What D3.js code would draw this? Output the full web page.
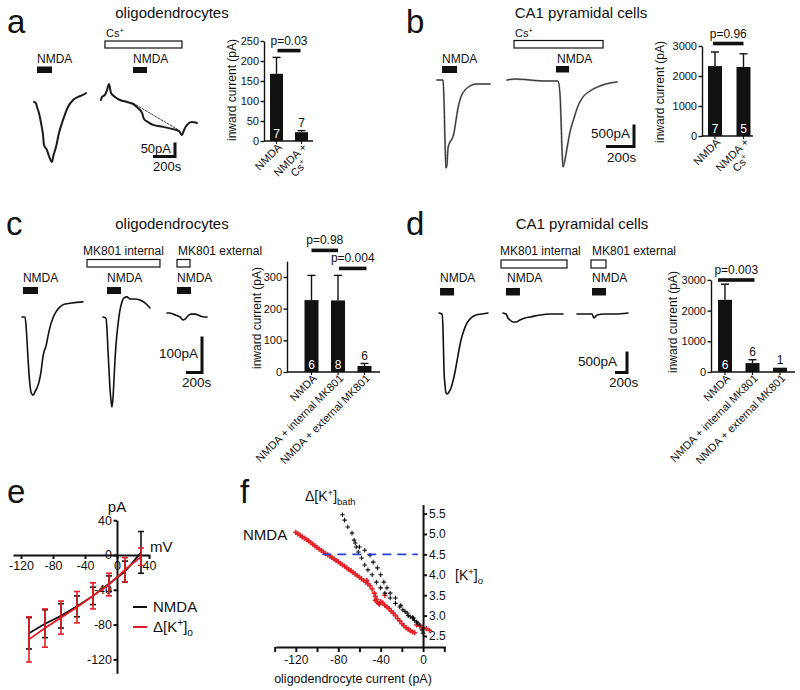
<!DOCTYPE html>
<html>
<head>
<meta charset="utf-8">
<script src="https://cdn.jsdelivr.net/npm/d3@7/dist/d3.min.js"></script>
<style>
html,body{margin:0;padding:0;background:#fff;}
svg{display:block;}
text{font-family:"Liberation Sans",Arial,Helvetica,sans-serif;}
</style>
</head>
<body>
<svg id="fig" width="800" height="690" xmlns="http://www.w3.org/2000/svg"></svg>
<script>
// ================= DATA =================
// Panel a : oligodendrocytes, NMDA without / with Cs+  (time s, current pA)
const aTraceControl = [[0,-7],[18,-11],[27,-25],[45,-46],[64,-82],[82,-125],[91,-161],[118,-179],[136,-200],[164,-221],[173,-204],[200,-168],[227,-118],[264,-71],[309,-25],[355,0],[400,11],[445,18],[473,25]];
const aTraceCs = [[0,0],[9,11],[36,18],[55,36],[73,57],[91,25],[127,11],[173,0],[236,-7],[291,-14],[336,-29],[373,-46],[391,-68],[427,-79],[473,-89],[564,-96],[655,-104],[709,-111],[736,-125],[755,-107],[782,-89],[827,-79],[873,-82]];
const aCsBaseline = [[291,-11],[691,-104]];
const aNmdaApp1 = [27,164];
const aCsApp = [36,736];
const aNmdaApp2 = [291,418];
const aBarCats = ["NMDA", "NMDA +|Cs^{+}"];
const aBarMeans = [168, 22];
const aBarSem = [41, 4];
const aBarN = [7, 7];
const aBarTicks = [0, 50, 100, 150, 200, 250];

// Panel b : CA1 pyramidal cells
const bTraceControl = [[0,0],[43,0],[50,-455],[57,-1364],[64,-2000],[71,-1932],[79,-1545],[93,-1409],[107,-1341],[121,-1205],[136,-909],[150,-636],[171,-386],[200,-227],[236,-136],[279,-91],[321,-91],[379,-91]];
const bTraceCs = [[0,0],[57,23],[164,0],[271,-23],[364,-23],[379,-341],[386,-909],[393,-1591],[400,-1977],[414,-1818],[429,-1545],[450,-1182],[479,-864],[507,-591],[543,-386],[593,-250],[664,-136],[736,-68],[786,-45]];
const bNmdaApp1 = [36,143];
const bCsApp = [50,686];
const bNmdaApp2 = [350,443];
const bBarCats = ["NMDA", "NMDA +|Cs^{+}"];
const bBarMeans = [2330, 2300];
const bBarSem = [470, 440];
const bBarN = [7, 5];
const bBarTicks = [0, 1000, 2000, 3000];

// Panel c : oligodendrocytes, MK801
const cTraceControl = [[0,0],[37,0],[50,-22],[62,-64],[75,-114],[87,-156],[100,-189],[112,-208],[137,-217],[162,-208],[187,-197],[212,-181],[237,-153],[262,-111],[275,-97],[300,-81],[325,-53],[350,-28],[387,-3],[425,14],[475,28],[537,36],[625,39],[762,42]];
const cTraceInternal = [[0,0],[37,-3],[50,-36],[62,-92],[75,-147],[87,-197],[100,-231],[112,-250],[125,-225],[137,-175],[150,-119],[162,-78],[187,-22],[212,19],[237,42],[262,53],[300,56],[337,50],[400,50],[462,47],[525,39],[587,25]];
const cTraceExternal = [[0,0],[37,0],[75,-3],[112,-6],[162,-11],[200,-19],[225,-17],[262,-8],[300,-3],[350,-3],[412,-8],[462,-11],[500,-11]];
const cNmdaApp1 = [12,200];
const cInternalApp = [-200,712];
const cNmdaApp2 = [50,225];
const cExternalApp = [125,287];
const cNmdaApp3 = [125,300];
const cBarCats = ["NMDA", "NMDA + internal MK801", "NMDA + external MK801"];
const cBarMeans = [227, 226, 19];
const cBarSem = [78, 79, 8];
const cBarN = [6, 8, 6];
const cBarTicks = [0, 100, 200, 300];

// Panel d : CA1 pyramidal cells, MK801
const dTraceControl = [[0,0],[50,-24],[67,-405],[75,-881],[83,-1357],[100,-1714],[117,-1905],[133,-1929],[167,-1881],[200,-1786],[233,-1619],[267,-1405],[300,-1143],[333,-881],[367,-643],[417,-405],[467,-238],[533,-119],[617,-48],[717,-24],[817,0]];
const dTraceInternal = [[0,0],[50,-24],[83,-119],[117,-167],[167,-214],[217,-214],[283,-167],[367,-119],[450,-95],[617,-48],[783,-24],[1000,-24]];
const dTraceExternal = [[0,0],[133,0],[250,0],[267,-48],[283,-95],[300,-71],[333,-24],[467,0],[633,0],[850,24]];
const dNmdaApp1 = [17,250];
const dInternalApp = [-33,1067];
const dNmdaApp2 = [50,283];
const dExternalApp = [233,483];
const dNmdaApp3 = [250,483];
const dBarCats = ["NMDA", "NMDA + internal MK801", "NMDA + external MK801"];
const dBarMeans = [2350, 290, 140];
const dBarSem = [510, 110, 0];
const dBarN = [6, 6, 1];
const dBarTicks = [0, 1000, 2000, 3000];

// Panel e : I-V relation
const eVm = [-110, -90, -70, -50, -30, -10, 10, 30];
const eNmdaMean = [-90, -79, -70, -59, -47, -33, -19, 3];
const eNmdaSem = [18, 16, 14, 12, 10, 9, 12, 24];
const eKMean = [-97, -84, -72, -60, -47, -34, -17, -2];
const eKSem = [26, 22, 19, 18, 15, 13, 14, 10];
const eXTicks = [-120, -80, -40, 0, 40];
const eYTicks = [40, 0, -40, -80, -120];

// Panel f : [K+]o vs oligodendrocyte current
const fNmdaPoints = [[-120,5.04],[-118,5.0],[-116,4.97],[-114,4.93],[-112,4.9],[-110,4.87],[-108,4.83],[-106,4.79],[-104,4.75],[-102,4.71],[-100,4.67],[-98,4.63],[-96,4.6],[-94,4.56],[-92,4.52],[-90,4.49],[-88,4.46],[-86,4.42],[-84,4.39],[-82,4.35],[-80,4.32],[-78,4.28],[-76,4.24],[-74,4.21],[-72,4.17],[-70,4.13],[-68,4.1],[-66,4.06],[-64,4.02],[-62,3.98],[-60,3.94],[-58,3.9],[-56,3.86],[-54,3.82],[-52,3.78],[-50,3.73],[-48,3.65],[-46,3.55],[-45,3.47],[-44,3.4],[-43,3.33],[-42,3.3],[-40,3.34],[-38,3.31],[-36,3.25],[-34,3.21],[-32,3.17],[-30,3.11],[-28,3.06],[-26,3.0],[-24,2.93],[-22,2.87],[-20,2.8],[-18,2.75],[-16,2.7],[-14,2.67],[-12,2.63],[-10,2.6],[-8,2.58],[-6,2.77],[-3,2.74],[0,2.7],[3,2.68],[6,2.64],[-53,3.86],[-36,3.5],[-45,3.37],[-41,3.28]];
const fBathPoints = [[-76,5.47],[-74,5.34],[-71,5.17],[-67,5.02],[-65,4.85],[-63,4.68],[-61,4.56],[-58,4.41],[-55,4.24],[-52,4.12],[-48,4.0],[-44,3.82],[-40,3.68],[-36,3.55],[-31,3.43],[-26,3.3],[-64,4.78],[-60,4.68],[-55,4.6],[-50,4.48],[-47,4.31],[-43,4.17],[-40,4.0],[-37,3.82],[-34,3.68],[-31,3.55],[-26,3.43],[-22,3.21],[-19,3.14],[-15,3.06],[-12,2.97],[-9,2.94],[-6,2.84],[-3,2.77],[-1,2.65],[0,2.57],[-21,3.25],[-17,3.1],[-14,3.0],[-10,2.95],[-8,2.88],[-5,2.82]];
const fThresholdK = 4.5;
const fThresholdSpan = [-95, -5];
const fXTicks = [-140, -120, -100, -80, -60, -40, -20, 0, 20];
const fXLabelled = [-120, -80, -40, 0];
const fYTicks = [2.5, 3.0, 3.5, 4.0, 4.5, 5.0, 5.5];

// ================= DRAWING =================
const svg = d3.select("#fig");
const INK = "#111";
const RED = "#e41e26";
svg.append("rect").attr("width", 800).attr("height", 690).attr("fill", "#fff");

function rich(t, s, fs) {
  const parts = String(s).split(/(\^\{[^}]*\}|_\{[^}]*\})/).filter(p => p !== "");
  let cur = 0;
  parts.forEach(p => {
    let off = 0, size = fs, content = p;
    if (p.startsWith("^{")) { off = -fs * 0.38; size = fs * 0.68; content = p.slice(2, -1); }
    else if (p.startsWith("_{")) { off = fs * 0.25; size = fs * 0.68; content = p.slice(2, -1); }
    t.append("tspan").attr("font-size", size).attr("dy", off - cur).text(content);
    cur = off;
  });
  return t;
}
function text(x, y, s, fs, anchor, color, parent) {
  const t = (parent || svg).append("text").attr("x", x).attr("y", y).attr("font-size", fs)
    .attr("text-anchor", anchor || "start").attr("fill", color || INK);
  return rich(t, s, fs);
}
function mkScales(x0, y0, kx, ky) {
  return {
    x: d3.scaleLinear().domain([0, 100]).range([x0, x0 + 100 * kx]),
    y: d3.scaleLinear().domain([0, -100]).range([y0, y0 + 100 * ky])
  };
}
function drawTrace(s, data, color, w, dash) {
  svg.append("path").datum(data)
    .attr("d", d3.line().x(d => s.x(d[0])).y(d => s.y(d[1])).curve(dash ? d3.curveLinear : d3.curveMonotoneX))
    .attr("fill", "none").attr("stroke", color).attr("stroke-width", w)
    .attr("stroke-linejoin", "round").attr("stroke-linecap", "round")
    .attr("stroke-dasharray", dash || null);
}
function appBar(s, range, y, h, filled) {
  svg.append("rect").attr("x", s.x(range[0])).attr("y", y)
    .attr("width", s.x(range[1]) - s.x(range[0])).attr("height", h)
    .attr("fill", filled ? INK : "#fff").attr("stroke", INK).attr("stroke-width", filled ? 0 : 1.2);
}
function scaleBar(s, cx, cy, tLen, iLen, iText, iPos, tText, tPos, fs) {
  const w = s.x(tLen) - s.x(0), h = s.y(-iLen) - s.y(0);
  svg.append("path").attr("d", `M${cx - w},${cy}H${cx}V${cy - h}`)
    .attr("fill", "none").attr("stroke", INK).attr("stroke-width", 3);
  text(iPos[0], iPos[1], iText, fs, "end");
  text(tPos[0], tPos[1], tText, fs, "start");
}
function styleAxis(g, fs, lw) {
  g.attr("font-family", null).attr("font-size", null);
  g.selectAll("text").attr("font-size", fs).attr("fill", INK)
    .style("font-family", '"Liberation Sans", Arial, sans-serif');
  g.selectAll("line").attr("stroke", INK).attr("stroke-width", lw);
  g.select(".domain").attr("stroke", INK).attr("stroke-width", lw);
}

function barChart(c) {
  const g = svg.append("g");
  const y = d3.scaleLinear().domain([0, c.top]).range([c.y0, c.y0 - c.top * c.ppu]);
  const x = d3.scalePoint().domain(c.cats).range(c.centers);
  c.cats.forEach((cat, i) => {
    const cx = x(cat), m = c.means[i], e = c.sem[i];
    if (e > 0) {
      g.append("line").attr("x1", cx).attr("x2", cx).attr("y1", y(m)).attr("y2", y(m + e)).attr("stroke", INK).attr("stroke-width", 1.4);
      g.append("line").attr("x1", cx - 4).attr("x2", cx + 4).attr("y1", y(m + e)).attr("y2", y(m + e)).attr("stroke", INK).attr("stroke-width", 1.4);
    }
    g.append("rect").attr("x", cx - c.bw / 2).attr("y", y(m)).attr("width", c.bw).attr("height", y(0) - y(m)).attr("fill", INK);
    const inside = (y(0) - y(m)) > 16;
    g.append("text").attr("x", cx).attr("y", inside ? y(0) - 3.5 : y(m + e) - 3.5)
      .attr("text-anchor", "middle").attr("font-size", 12).attr("fill", inside ? "#fff" : INK).text(c.n[i]);
    const lines = cat.split("|");
    const lg = g.append("g").attr("transform", `translate(${cx + 6},${c.y0 + 7}) rotate(-45)`);
    const t1 = rich(lg.append("text").attr("text-anchor", "end").attr("font-size", 11).attr("fill", INK), lines[0], 11);
    if (lines[1]) {
      const L = t1.node().getComputedTextLength();
      rich(lg.append("text").attr("text-anchor", "middle").attr("x", -L / 2).attr("y", 12).attr("font-size", 11).attr("fill", INK), lines[1], 11);
    }
  });
  const ya = g.append("g").attr("transform", `translate(${c.axisX},0)`)
    .call(d3.axisLeft(y).tickValues(c.ticks).tickSize(3.5).tickSizeOuter(0).tickPadding(1.5).tickFormat(d => String(d)));
  styleAxis(ya, 11, 1.4);
  g.append("line").attr("x1", c.axisX).attr("x2", c.xEnd).attr("y1", y(0)).attr("y2", y(0)).attr("stroke", INK).attr("stroke-width", 1.6);
  c.cats.forEach(cat => {
    g.append("line").attr("x1", x(cat)).attr("x2", x(cat)).attr("y1", y(0)).attr("y2", y(0) + 3).attr("stroke", INK).attr("stroke-width", 1.2);
  });
  c.pv.forEach(p => {
    const x1 = x(c.cats[p.a]) + p.pad[0], x2 = x(c.cats[p.b]) + p.pad[1];
    g.append("rect").attr("x", x1).attr("y", y(p.v) - 1.8).attr("width", x2 - x1).attr("height", 3.6).attr("fill", INK);
    text((x1 + x2) / 2, y(p.v) - 6, p.text, 12, "middle", INK, g);
  });
  g.append("text").attr("transform", `translate(${c.ylab[0]},${c.ylab[1]}) rotate(-90)`)
    .attr("text-anchor", "middle").attr("font-size", 12).attr("fill", INK).text("inward current (pA)");
}

// ---------- panel letters & titles ----------
text(7, 33, "a", 33); text(406, 33, "b", 33);
text(6, 235, "c", 33); text(406, 235, "d", 33);
text(7, 503, "e", 33); text(240, 503, "f", 33);
text(172, 18, "oligodendrocytes", 15, "middle");
text(581, 18, "CA1 pyramidal cells", 15, "middle");
text(172, 229, "oligodendrocytes", 15, "middle");
text(582, 229, "CA1 pyramidal cells", 15, "middle");

// ---------- panel a ----------
{
  const s1 = mkScales(34, 100, 0.11, 0.28), s2 = mkScales(101, 100, 0.11, 0.28);
  drawTrace(s1, aTraceControl, "#1a1a1a", 2);
  drawTrace(s2, aCsBaseline, "#333", 1, "2,1.6");
  drawTrace(s2, aTraceCs, "#1a1a1a", 2);
  appBar(s1, aNmdaApp1, 66.5, 6.5, true);
  text(s1.x(aNmdaApp1[0]), 62.5, "NMDA", 12);
  appBar(s2, aCsApp, 41, 7, false);
  text(s2.x(aCsApp[0]) + 1, 37, "Cs^{+}", 11);
  appBar(s2, aNmdaApp2, 67, 6, true);
  text(s2.x(aNmdaApp2[0]), 62.5, "NMDA", 12);
  scaleBar(s2, 175, 156.5, 200, 50, "50pA", [171, 152.5], "200s", [153, 170.5], 13);
  barChart({cats: aBarCats, means: aBarMeans, sem: aBarSem, n: aBarN, ticks: aBarTicks, top: 250,
    axisX: 264, y0: 141, ppu: 0.4, centers: [276.5, 301.5], xEnd: 313, bw: 13, ylab: [236, 90],
    pv: [{a: 0, b: 1, v: 226, text: "p=0.03", pad: [1, -1]}]});
}

// ---------- panel b ----------
{
  const s1 = mkScales(437, 80, 0.14, 0.044), s2 = mkScales(507, 80, 0.14, 0.044);
  drawTrace(s1, bTraceControl, "#a0a0a0", 2); drawTrace(s1, bTraceControl, "#2a2a2a", 1);
  drawTrace(s2, bTraceCs, "#a0a0a0", 2); drawTrace(s2, bTraceCs, "#2a2a2a", 1);
  appBar(s1, bNmdaApp1, 66, 7, true);
  text(s1.x(bNmdaApp1[0]), 62.5, "NMDA", 12);
  appBar(s2, bCsApp, 40.5, 7.5, false);
  text(s2.x(bCsApp[0]) + 1, 37, "Cs^{+}", 11);
  appBar(s2, bNmdaApp2, 66, 6.5, true);
  text(s2.x(bNmdaApp2[0]) + 1, 62.5, "NMDA", 12);
  scaleBar(s2, 634, 146.5, 200, 500, "500pA", [630, 137.5], "200s", [607, 162], 13.5);
  barChart({cats: bBarCats, means: bBarMeans, sem: bBarSem, n: bBarN, ticks: bBarTicks, top: 3000,
    axisX: 702, y0: 136, ppu: 0.03, centers: [715, 743.5], xEnd: 753, bw: 14, ylab: [664, 92],
    pv: [{a: 0, b: 1, v: 3083, text: "p=0.96", pad: [-2, 0]}]});
}

// ---------- panel c ----------
{
  const s1 = mkScales(22, 317, 0.08, 0.36), s2 = mkScales(103, 317, 0.08, 0.36), s3 = mkScales(167, 313, 0.08, 0.36);
  drawTrace(s1, cTraceControl, INK, 1.6);
  drawTrace(s2, cTraceInternal, INK, 1.6);
  drawTrace(s3, cTraceExternal, INK, 1.6);
  appBar(s1, cNmdaApp1, 287, 7, true); text(s1.x(cNmdaApp1[0]), 282, "NMDA", 12);
  appBar(s2, cInternalApp, 259.5, 7.5, false);
  text((s2.x(cInternalApp[0]) + s2.x(cInternalApp[1])) / 2, 255, "MK801 internal", 12, "middle");
  appBar(s2, cNmdaApp2, 287, 7, true); text(s2.x(cNmdaApp2[0]), 282, "NMDA", 12);
  appBar(s3, cExternalApp, 259.5, 7.5, false);
  text(s3.x(cExternalApp[0]) + 1, 255, "MK801 external", 12);
  appBar(s3, cNmdaApp3, 287, 7, true); text(s3.x(cNmdaApp3[0]), 282, "NMDA", 12);
  scaleBar(s3, 202, 372.5, 200, 100, "100pA", [198, 358], "200s", [182, 387], 13.5);
  barChart({cats: cBarCats, means: cBarMeans, sem: cBarSem, n: cBarN, ticks: cBarTicks, top: 350,
    axisX: 287, y0: 372, ppu: 0.3167, centers: [311.5, 364.5], xEnd: 380, bw: 14, ylab: [261, 318],
    pv: [{a: 0, b: 1, v: 384, text: "p=0.98", pad: [0, 0]}, {a: 1, b: 2, v: 327, text: "p=0.004", pad: [1, 2]}]});
}

// ---------- panel d ----------
{
  const s1 = mkScales(439, 313, 0.06, 0.042), s2 = mkScales(503, 313, 0.06, 0.042), s3 = mkScales(577, 314, 0.06, 0.042);
  drawTrace(s1, dTraceControl, INK, 1.6);
  drawTrace(s2, dTraceInternal, INK, 1.6);
  drawTrace(s3, dTraceExternal, INK, 1.6);
  appBar(s1, dNmdaApp1, 288, 7.5, true); text(s1.x(dNmdaApp1[0]), 282, "NMDA", 12);
  appBar(s2, dInternalApp, 260, 8, false);
  text(s2.x(dInternalApp[0]) - 1, 255, "MK801 internal", 12);
  appBar(s2, dNmdaApp2, 288, 7.5, true); text(s2.x(dNmdaApp2[0]) + 1, 282, "NMDA", 12);
  appBar(s3, dExternalApp, 260, 8, false);
  text(s3.x(dExternalApp[0]) + 1, 255, "MK801 external", 12);
  appBar(s3, dNmdaApp3, 288, 7.5, true); text(s3.x(dNmdaApp3[0]), 282, "NMDA", 12);
  scaleBar(s3, 627, 372.5, 200, 500, "500pA", [617, 366], "200s", [609, 387], 13.5);
  barChart({cats: dBarCats, means: dBarMeans, sem: dBarSem, n: dBarN, ticks: dBarTicks, top: 3000,
    axisX: 711, y0: 372, ppu: 0.0307, centers: [725, 780], xEnd: 795, bw: 14, ylab: [677, 322],
    pv: [{a: 0, b: 1, v: 2997, text: "p=0.003", pad: [-7, 2]}]});
}

// ---------- panel e ----------
{
  const xe = d3.scaleLinear().domain([-130, 41]).range([13, 149.8]);
  const ye = d3.scaleLinear().domain([40, -136]).range([520.2, 673.3]);
  const g = svg.append("g");
  const xa = g.append("g").attr("transform", `translate(0,${ye(0)})`)
    .call(d3.axisBottom(xe).tickValues(eXTicks).tickSize(4).tickSizeOuter(0).tickPadding(2).tickFormat(d => String(d)));
  styleAxis(xa, 12.5, 2);
  const yaxis = g.append("g").attr("transform", `translate(${xe(0)},0)`)
    .call(d3.axisLeft(ye).tickValues(eYTicks).tickSize(3.5).tickSizeOuter(0).tickPadding(1.5).tickFormat(d => String(d)));
  styleAxis(yaxis, 12.5, 2);
  text(xe(0), 512, "pA", 15, "middle");
  text(150, 552, "mV", 15);
  const series = [[eNmdaMean, eNmdaSem, INK], [eKMean, eKSem, RED]];
  series.forEach(([mean, sem, col]) => {
    const pts = eVm.map((v, i) => [v, mean[i], sem[i]]);
    g.append("path").datum(pts).attr("d", d3.line().x(d => xe(d[0])).y(d => ye(d[1])))
      .attr("fill", "none").attr("stroke", col).attr("stroke-width", 1.8);
    pts.forEach(d => {
      const x = xe(d[0]);
      g.append("line").attr("x1", x).attr("x2", x).attr("y1", ye(d[1] - d[2])).attr("y2", ye(d[1] + d[2])).attr("stroke", col).attr("stroke-width", 1.6);
      [d[1] - d[2], d[1] + d[2]].forEach(v => g.append("line").attr("x1", x - 3).attr("x2", x + 3).attr("y1", ye(v)).attr("y2", ye(v)).attr("stroke", col).attr("stroke-width", 1.6));
    });
  });
  g.append("line").attr("x1", 133).attr("x2", 147).attr("y1", 607).attr("y2", 607).attr("stroke", INK).attr("stroke-width", 2);
  text(153, 612, "NMDA", 15);
  g.append("line").attr("x1", 133).attr("x2", 147).attr("y1", 627).attr("y2", 627).attr("stroke", RED).attr("stroke-width", 2);
  text(153, 632, "Δ[K^{+}]_{o}", 15);
}

// ---------- panel f ----------
{
  const xf = d3.scaleLinear().domain([-139, 21]).range([275.7, 445.3]);
  const yf = d3.scaleLinear().domain([2.23, 5.72]).range([647, 504.6]);
  const g = svg.append("g");
  const plus = (data, col, r, w) => g.selectAll(null).data(data).enter().append("path")
    .attr("d", d => `M${xf(d[0]) - r},${yf(d[1])}H${xf(d[0]) + r}M${xf(d[0])},${yf(d[1]) - r}V${yf(d[1]) + r}`)
    .attr("stroke", col).attr("stroke-width", w).attr("fill", "none");
  plus(fNmdaPoints, RED, 2.6, 1.6);
  plus(fBathPoints, INK, 2.3, 1.1);
  g.append("line").attr("x1", xf(fThresholdSpan[0])).attr("x2", xf(fThresholdSpan[1]))
    .attr("y1", yf(fThresholdK)).attr("y2", yf(fThresholdK))
    .attr("stroke", "#2b3fd4").attr("stroke-width", 1.8).attr("stroke-dasharray", "9,6");
  const xa = g.append("g").attr("transform", `translate(0,647)`)
    .call(d3.axisBottom(xf).tickValues(fXTicks).tickSize(5).tickSizeOuter(0).tickPadding(3)
      .tickFormat(d => fXLabelled.includes(d) ? String(d) : ""));
  styleAxis(xa, 12, 2);
  const ya = g.append("g").attr("transform", `translate(${xf(0)},0)`)
    .call(d3.axisRight(yf).tickValues(fYTicks).tickSize(4).tickSizeOuter(0).tickPadding(2).tickFormat(d3.format(".1f")));
  styleAxis(ya, 12, 2);
  text(353, 683, "oligodendrocyte current (pA)", 12.5, "middle");
  text(455, 580, "[K^{+}]_{o}", 14);
  text(305, 501, "Δ[K^{+}]_{bath}", 14);
  text(243, 540, "NMDA", 15);
}
</script>
</body>
</html>
